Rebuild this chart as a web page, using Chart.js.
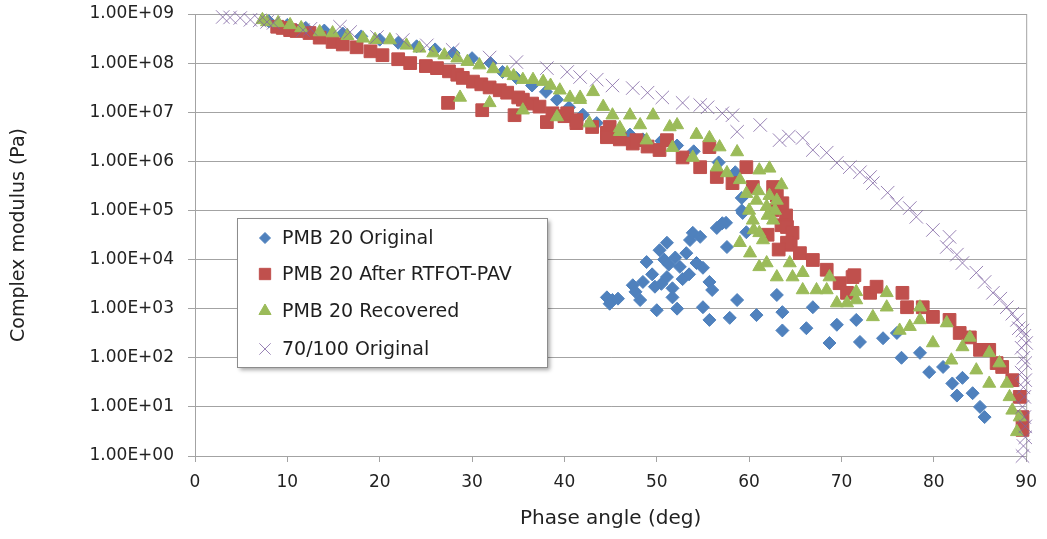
<!DOCTYPE html>
<html>
<head>
<meta charset="utf-8">
<script src="https://cdn.jsdelivr.net/npm/chart.js@4/dist/chart.umd.min.js"></script>
<style>
  html, body { margin: 0; padding: 0; background: #fff; }
  #wrap { width: 1047px; height: 539px; }
</style>
</head>
<body>
<div id="wrap"><canvas id="myChart" width="1047" height="539"></canvas></div>
<script>
// phase angle (deg) / complex modulus (Pa)
const origX = [8, 10, 12, 14, 16, 18, 20, 22, 24, 26, 28, 30, 32, 33.3, 34.8, 36.5, 38, 39.2, 40.5, 42, 43.5, 45, 47.1, 48.5, 50.5, 52.2, 54, 56.7, 58.5, 59.2, 59.2, 57.5,
  44.6, 45.2, 44.9, 45.8, 47.4, 47.7, 48.2, 48.5, 48.9, 49.5, 49.8, 50.0, 50.3, 50.5, 50.8, 51.1, 51.1, 51.3, 51.7, 51.7, 52.0, 52.2, 52.5, 52.8, 53.2, 53.5, 53.6, 53.9, 54.3, 54.7, 55.0, 55.7, 56.0, 55.0, 55.7, 56.5, 57.1, 57.6, 57.9, 58.7, 59.3, 59.7,
  60.8, 63.0, 63.6, 63.6, 66.2, 66.9, 68.7, 69.5, 71.6, 72.0, 74.5, 76.0, 76.5, 78.5, 79.5, 81.0, 82.0, 82.5, 83.1, 84.2, 85.0, 85.5];
const origY = [7.1e8, 6.0e8, 5.2e8, 4.6e8, 4.0e8, 3.5e8, 3.0e8, 2.6e8, 2.2e8, 1.9e8, 1.6e8, 1.26e8, 1.0e8, 6.6e7, 5.0e7, 3.5e7, 2.6e7, 1.8e7, 1.26e7, 8.9e6, 6.0e6, 4.5e6, 3.5e6, 2.8e6, 2.6e6, 2.1e6, 1.6e6, 9.5e5, 6.0e5, 1.8e5, 1.0e5, 5.6e4,
  1.7e3, 1.5e3, 1.26e3, 1.6e3, 3.0e3, 2.2e3, 1.5e3, 3.5e3, 8.9e3, 5.0e3, 2.8e3, 9.3e2, 1.55e4, 3.2e3, 1.0e4, 2.2e4, 4.4e3, 7.9e3, 2.6e3, 1.7e3, 1.1e4, 1.0e3, 7.1e3, 4.0e3, 1.35e4, 5.0e3, 2.5e4, 3.5e4, 8.5e3, 2.9e4, 6.8e3, 3.5e3, 2.4e3, 1.07e3, 5.9e2, 4.4e4, 5.5e4, 1.8e4, 6.5e2, 1.5e3, 8.9e4, 3.6e4,
  7.4e2, 1.9e3, 8.5e2, 3.6e2, 4.0e2, 1.07e3, 2.0e2, 4.7e2, 5.9e2, 2.1e2, 2.5e2, 3.2e2, 1.0e2, 1.26e2, 51, 65, 30, 17, 39, 19, 10, 6.2];

const agedX = [8.9, 9.5, 10.3, 11, 12.4, 13.5, 14.9, 16, 17.5, 19, 20.3, 22, 23.3, 25, 26.2, 27.5, 28.4, 29, 30.1, 31, 31.9, 33, 33.8, 35, 35.5, 36.5, 37.3, 38.7, 40, 40.3, 41.3, 41.3, 43, 44.6, 44.9, 46, 47.4, 47.8, 49, 50.3, 51.1, 52.8, 54.7, 55.7, 56.5, 58.2, 59.7, 60.4,
  62.6, 63.0, 63.3, 62.5, 63.6, 64.0, 63.5, 64.1, 62.0, 64.7, 64.5, 64.1, 63.2, 65.5, 66.9, 68.4, 69.8, 71.2, 70.6, 71.4, 73.1, 73.8, 76.6, 77.1, 78.8, 79.9, 81.7, 82.8, 83.9, 85.0, 86.0, 86.8, 87.4, 88.5, 89.3, 89.6, 89.6,
  27.4, 31.1, 34.6, 38.1, 44.6];
const agedY = [5.5e8, 5.2e8, 4.7e8, 4.5e8, 4.1e8, 3.3e8, 2.7e8, 2.4e8, 2.1e8, 1.74e8, 1.45e8, 1.2e8, 1.0e8, 8.7e7, 7.9e7, 6.8e7, 5.8e7, 5.0e7, 4.2e7, 3.7e7, 3.2e7, 2.8e7, 2.5e7, 2.0e7, 1.8e7, 1.5e7, 1.3e7, 9.5e6, 8.3e6, 9.5e6, 6.9e6, 6.0e6, 5.0e6, 3.8e6, 5.0e6, 2.8e6, 2.3e6, 2.7e6, 2.0e6, 1.7e6, 2.7e6, 1.2e6, 7.6e5, 1.95e6, 4.8e5, 3.6e5, 7.6e5, 3.0e5,
  3.0e5, 2.0e5, 1.2e5, 1.0e5, 1.4e5, 7.9e4, 5.0e4, 4.6e4, 3.2e4, 3.5e4, 2.0e4, 2.2e4, 1.6e4, 1.35e4, 9.8e3, 6.2e3, 3.3e3, 4.4e3, 2.1e3, 4.8e3, 2.1e3, 2.8e3, 2.1e3, 1.07e3, 1.07e3, 6.8e2, 5.9e2, 3.2e2, 2.6e2, 1.45e2, 1.45e2, 78, 65, 35, 16, 6.2, 3.4,
  1.55e7, 1.1e7, 8.7e6, 6.3e6, 3.1e6];

const recX = [7.3, 7.8, 9, 10.3, 11.5, 13.5, 14.9, 16.5, 18.2, 19.5, 21.1, 22.9, 24.3, 25.8, 27, 28.4, 29.5, 30.8, 32.3, 33.8, 34.5, 35.5, 36.6, 37.7, 38.5, 39.5, 40.6, 41.7, 41.7, 43.1, 44.2, 45.2, 46.0, 47.1, 48.2, 48.9, 49.6, 51.4, 52.2, 51.7, 53.9, 54.3, 55.7, 56.8, 56.5, 58.7, 57.6, 59.0,
  61.1, 62.2, 63.5, 59.7, 60.8, 61.0, 62.2, 61.9, 63.0, 60.0, 62.0, 62.8, 60.4, 62.6, 60.5, 61.1, 61.5, 59.0, 60.1, 61.1, 61.9, 63.0, 64.4, 64.7, 65.8, 65.8, 67.3, 68.4, 68.7, 69.5, 70.6, 71.6, 71.6, 73.4, 74.9, 74.9, 76.3, 77.4,
  78.5, 78.5, 79.9, 81.4, 81.9, 83.1, 83.9, 84.6, 86.0, 86.0, 87.1, 87.9, 88.2, 88.5, 89.3, 89.0,
  28.7, 31.9, 35.5, 39.2, 42.7, 46.0];
const recY = [7.6e8, 6.9e8, 6.6e8, 6.0e8, 5.2e8, 4.3e8, 4.1e8, 3.6e8, 3.2e8, 3.0e8, 2.95e8, 2.3e8, 2.0e8, 1.6e8, 1.45e8, 1.26e8, 1.07e8, 9.1e7, 7.6e7, 6.3e7, 5.5e7, 4.6e7, 4.6e7, 4.2e7, 3.5e7, 2.8e7, 2.0e7, 2.0e7, 1.8e7, 2.6e7, 1.3e7, 8.7e6, 4.0e6, 8.7e6, 5.5e6, 2.7e6, 8.7e6, 5.0e6, 5.5e6, 1.9e6, 1.2e6, 3.5e6, 3.0e6, 1.95e6, 7.6e5, 1.55e6, 5.8e5, 4.2e5,
  6.6e5, 7.2e5, 3.3e5, 2.2e5, 1.6e5, 2.5e5, 2.0e5, 1.2e5, 1.6e5, 1.0e5, 7.9e4, 1.0e5, 6.3e4, 6.3e4, 4.0e4, 3.5e4, 2.5e4, 2.2e4, 1.35e4, 7.1e3, 8.5e3, 4.4e3, 8.5e3, 4.4e3, 5.4e3, 2.4e3, 2.4e3, 2.4e3, 4.4e3, 1.3e3, 1.3e3, 2.2e3, 1.5e3, 6.8e2, 2.1e3, 1.07e3, 3.6e2, 4.3e2,
  1.07e3, 5.9e2, 2.0e2, 5.1e2, 89, 1.66e2, 2.6e2, 56, 1.26e2, 30, 78, 30, 16, 8.5, 6.2, 3.1,
  2.0e7, 1.55e7, 1.1e7, 8.0e6, 6.0e6, 4.8e6];

const baseX = [3.0, 3.8, 4.9, 6.0, 7.0, 7.8, 8.5, 11.7, 12.5, 15.7, 16.8, 19.7, 22.5, 25.1, 27.9, 31.9, 34.8, 38.1, 40.3, 41.7, 43.5, 45.2, 47.4, 49.0, 50.6, 52.8, 54.7, 55.5, 57.1, 58.2, 58.7, 61.2, 63.3, 64.3, 65.8, 66.9, 68.4, 69.5, 70.9, 72.0, 73.1, 73.4,
  75.0, 76.0, 77.4, 78.1, 79.9, 81.7, 81.4, 82.5, 83.1, 84.6, 85.5, 86.4, 87.2, 87.9, 88.5, 89.0, 89.2, 89.6, 89.8, 90.0, 89.5, 89.7, 89.9, 89.5, 89.9, 89.7, 89.8, 89.6, 89.8, 89.9, 89.9, 89.7, 89.6];
const baseY = [8.7e8, 8.5e8, 8.3e8, 7.6e8, 7.4e8, 6.9e8, 6.6e8, 4.7e8, 5.0e8, 5.5e8, 4.3e8, 3.4e8, 2.95e8, 2.3e8, 1.86e8, 1.3e8, 1.05e8, 7.9e7, 6.6e7, 5.2e7, 4.6e7, 3.5e7, 3.1e7, 2.5e7, 2.0e7, 1.55e7, 1.4e7, 1.26e7, 9.5e6, 8.7e6, 4.0e6, 5.5e6, 2.7e6, 3.2e6, 3.0e6, 1.7e6, 1.5e6, 9.3e5, 7.6e5, 6.0e5, 4.8e5, 3.6e5,
  2.3e5, 1.4e5, 1.12e5, 7.4e4, 4.0e4, 2.9e4, 1.8e4, 1.26e4, 8.5e3, 5.4e3, 3.5e3, 2.1e3, 1.6e3, 1.07e3, 7.9e2, 5.9e2, 4.0e2, 3.6e2, 2.8e2, 2.0e2, 1.6e2, 1.0e2, 78, 50, 35, 25, 16, 10, 6.2, 4.0, 2.4, 1.6, 1.0];

const seriesNames = ['PMB 20 Original', 'PMB 20 After RTFOT-PAV', 'PMB 20 Recovered', '70/100 Original'];
const yTicks = [1, 10, 100, 1e3, 1e4, 1e5, 1e6, 1e7, 1e8, 1e9];
const yTickLabels = ['1.00E+00', '1.00E+01', '1.00E+02', '1.00E+03', '1.00E+04', '1.00E+05', '1.00E+06', '1.00E+07', '1.00E+08', '1.00E+09'];

const pts = (xs, ys) => xs.map((x, i) => ({ x: x, y: ys[i] }));

const FONT = 'DejaVu Sans';
const GRID = '#a3a3a3';

const styles = [
  { pointStyle: 'rectRot', radius: 6.5, color: '#4f81bd', legendRadius: 5.5 },
  { pointStyle: 'rect', radius: 9, color: '#c0504d', legendRadius: 8 },
  { pointStyle: 'triangle', radius: 7.5, color: '#9bbb59', legendRadius: 7 },
  { pointStyle: 'crossRot', radius: 9.5, color: 'rgba(128,100,162,0.8)', legendRadius: 8 },
];

const data = {
  datasets: [pts(origX, origY), pts(agedX, agedY), pts(recX, recY), pts(baseX, baseY)].map((d, i) => ({
    label: seriesNames[i],
    data: d,
    order: 4 - i,
    pointStyle: styles[i].pointStyle,
    pointRadius: styles[i].radius,
    backgroundColor: styles[i].color,
    borderColor: styles[i].color,
    borderWidth: 1,
    clip: false,
  })),
};

// plot frame and legend box inside the plot area
const boxPlugin = {
  id: 'box',
  beforeDatasetsDraw(chart) {
    const { ctx, chartArea: a } = chart;
    ctx.save();
    ctx.strokeStyle = GRID;
    ctx.lineWidth = 1;
    ctx.strokeRect(a.left + 0.5, a.top + 0.5, a.right - a.left, a.bottom - a.top);
    ctx.restore();
  },
  afterDraw(chart) {
    const ctx = chart.ctx;
    const bx = 237, by = 218, bw = 310, bh = 149;
    ctx.save();
    ctx.shadowColor = 'rgba(0,0,0,0.35)';
    ctx.shadowBlur = 4;
    ctx.shadowOffsetX = 3;
    ctx.shadowOffsetY = 3;
    ctx.fillStyle = '#fff';
    ctx.fillRect(bx, by, bw, bh);
    ctx.shadowColor = 'transparent';
    ctx.strokeStyle = '#8c8c8c';
    ctx.lineWidth = 1;
    ctx.strokeRect(bx + 0.5, by + 0.5, bw, bh);
    ctx.font = '19px "' + FONT + '"';
    ctx.textBaseline = 'middle';
    const rows = [238, 274, 311, 349];
    seriesNames.forEach((name, i) => {
      const s = styles[i];
      ctx.fillStyle = s.color;
      ctx.strokeStyle = s.color;
      ctx.lineWidth = 1;
      Chart.helpers.drawPoint(ctx, { pointStyle: s.pointStyle, radius: s.legendRadius, rotation: 0, borderWidth: 1 }, 265, rows[i]);
      ctx.fillStyle = '#1f1f1f';
      ctx.fillText(name, 282, rows[i] + 1);
    });
    ctx.restore();
  },
};

const config = {
  type: 'scatter',
  data: data,
  options: {
    responsive: false,
    animation: false,
    events: [],
    layout: { padding: { top: 14, right: 20, left: 0, bottom: 0 } },
    plugins: {
      legend: { display: false },
      tooltip: { enabled: false },
    },
    scales: {
      x: {
        type: 'linear',
        min: 0,
        max: 90,
        ticks: { stepSize: 10, color: '#222', font: { family: FONT, size: 17 }, padding: 10, maxRotation: 0 },
        grid: { drawOnChartArea: false, drawTicks: true, tickLength: 6, color: GRID },
        border: { color: GRID },
        title: { display: true, text: 'Phase angle (deg)', color: '#222', font: { family: FONT, size: 20 }, padding: { top: 4, bottom: 8 } },
        afterFit: (s) => { s.height = 83; },
      },
      y: {
        type: 'logarithmic',
        min: 1,
        max: 1e9,
        afterBuildTicks: (s) => { s.ticks = yTicks.map((v) => ({ value: v })); },
        ticks: {
          color: '#222',
          font: { family: FONT, size: 17 },
          padding: 14,
          callback: (v, i) => yTickLabels[i],
        },
        grid: { color: GRID, tickLength: 7 },
        border: { color: GRID },
        title: { display: true, text: 'Complex modulus (Pa)', color: '#222', font: { family: FONT, size: 19 }, padding: { top: 8, bottom: 0 } },
        afterFit: (s) => { s.width = 195; s.paddingTop = 0; s.paddingBottom = 0; },
      },
    },
  },
  plugins: [boxPlugin],
};

new Chart(document.getElementById('myChart'), config);
</script>
</body>
</html>
